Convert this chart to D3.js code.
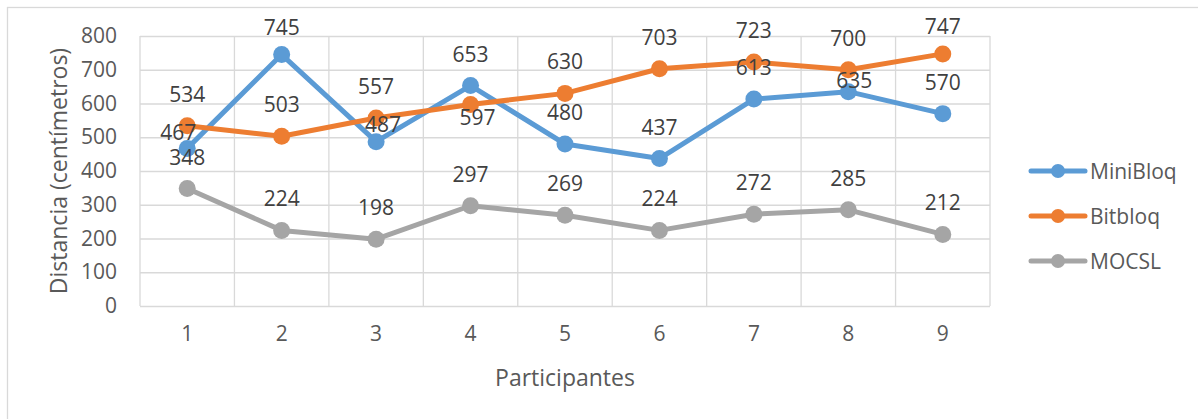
<!DOCTYPE html>
<html>
<head>
<meta charset="utf-8">
<script src="https://cdn.jsdelivr.net/npm/d3@7"></script>
<style>
  html, body { margin: 0; padding: 0; background: #fff; }
  svg { display: block; font-family: "Open Sans", sans-serif; }
</style>
</head>
<body>
<svg id="chart" width="1198" height="419"></svg>
<script>
// Participants on the x axis
const participants = ["1", "2", "3", "4", "5", "6", "7", "8", "9"];
// Distance travelled (cm) per tool
const miniBloq = [467, 745, 487, 653, 480, 437, 613, 635, 570];
const bitbloq  = [534, 503, 557, 597, 630, 703, 723, 700, 747];
const mocsl    = [348, 224, 198, 297, 269, 224, 272, 285, 212];
const seriesNames = ["MiniBloq", "Bitbloq", "MOCSL"];
const yTicks = [0, 100, 200, 300, 400, 500, 600, 700, 800];

// Data-label nudges (px) where labels would collide
const labelShift = {
  "MiniBloq": { 0: [-9, 16], 1: [0, 4], 2: [7, 14], 7: [6, 20] },
  "Bitbloq":  { 3: [7, 44], 8: [0, 4] },
  "MOCSL":    {}
};

const colors = ["#5B9BD5", "#ED7D31", "#A5A5A5"];
const seriesValues = [miniBloq, bitbloq, mocsl];

const svg = d3.select("#chart");
const plot = { left: 140, right: 990, top: 36, bottom: 306 };

// chart frame
svg.append("rect")
  .attr("x", 7.5).attr("y", 7.5)
  .attr("width", 1200).attr("height", 430)
  .attr("fill", "#fff").attr("stroke", "#d9d9d9").attr("stroke-width", 1.3);

const x = d3.scaleBand().domain(participants).range([plot.left, plot.right]).padding(0);
const y = d3.scaleLinear().domain([0, 800]).range([plot.bottom, plot.top]);
const cx = d => x(d) + x.bandwidth() / 2;

// horizontal gridlines + y tick labels
const yAxis = svg.append("g")
  .attr("transform", `translate(${plot.left},0)`)
  .call(d3.axisLeft(y).tickValues(yTicks).tickSize(-(plot.right - plot.left)).tickPadding(23));
yAxis.select(".domain").remove();
yAxis.selectAll(".tick line").attr("stroke", "#d9d9d9").attr("stroke-width", 1.3);
yAxis.selectAll(".tick text")
  .attr("fill", "#595959").attr("font-size", 21)
  .attr("font-family", "Open Sans, sans-serif");

// vertical gridlines at category boundaries
const edges = participants.map(p => x(p)).concat([plot.right]);
svg.append("g").selectAll("line").data(edges).join("line")
  .attr("x1", d => d).attr("x2", d => d)
  .attr("y1", plot.top).attr("y2", plot.bottom)
  .attr("stroke", "#d9d9d9").attr("stroke-width", 1.3);

// x tick labels
const xAxis = svg.append("g")
  .attr("transform", `translate(0,${plot.bottom})`)
  .call(d3.axisBottom(x).tickSize(0).tickPadding(20));
xAxis.select(".domain").remove();
xAxis.selectAll(".tick text")
  .attr("fill", "#595959").attr("font-size", 21)
  .attr("font-family", "Open Sans, sans-serif");

// axis titles
svg.append("text")
  .attr("x", 565).attr("y", 377)
  .attr("text-anchor", "middle").attr("dominant-baseline", "central")
  .attr("fill", "#595959").attr("font-size", 23)
  .text("Participantes");
svg.append("text")
  .attr("transform", `translate(58,${(plot.top + plot.bottom) / 2}) rotate(-90)`)
  .attr("text-anchor", "middle").attr("dominant-baseline", "central")
  .attr("fill", "#595959").attr("font-size", 23)
  .text("Distancia (centímetros)");

// series lines and markers
const line = d3.line().x((v, i) => cx(participants[i])).y(v => y(v));
seriesNames.forEach((name, s) => {
  const vals = seriesValues[s];
  const g = svg.append("g");
  g.append("path").datum(vals)
    .attr("d", line).attr("fill", "none")
    .attr("stroke", colors[s]).attr("stroke-width", 5)
    .attr("stroke-linejoin", "round").attr("stroke-linecap", "round");
  g.selectAll("circle").data(vals).join("circle")
    .attr("cx", (v, i) => cx(participants[i])).attr("cy", v => y(v))
    .attr("r", 8.5).attr("fill", colors[s]);
});

// data labels
seriesNames.forEach((name, s) => {
  const vals = seriesValues[s];
  svg.append("g").selectAll("text").data(vals).join("text")
    .attr("x", (v, i) => cx(participants[i]) + (labelShift[name][i] ? labelShift[name][i][0] : 0))
    .attr("y", (v, i) => y(v) - 32 + (labelShift[name][i] ? labelShift[name][i][1] : 0))
    .attr("text-anchor", "middle").attr("dominant-baseline", "central")
    .attr("fill", "#404040").attr("font-size", 21)
    .text(v => v);
});

// legend
const legend = svg.append("g");
seriesNames.forEach((name, s) => {
  const ly = 171 + s * 45;
  legend.append("line")
    .attr("x1", 1031).attr("x2", 1085).attr("y1", ly).attr("y2", ly)
    .attr("stroke", colors[s]).attr("stroke-width", 5).attr("stroke-linecap", "round");
  legend.append("circle").attr("cx", 1058).attr("cy", ly).attr("r", 7).attr("fill", colors[s]);
  legend.append("text")
    .attr("x", 1090).attr("y", ly)
    .attr("dominant-baseline", "central")
    .attr("fill", "#595959").attr("font-size", 21)
    .text(name);
});
</script>
</body>
</html>
